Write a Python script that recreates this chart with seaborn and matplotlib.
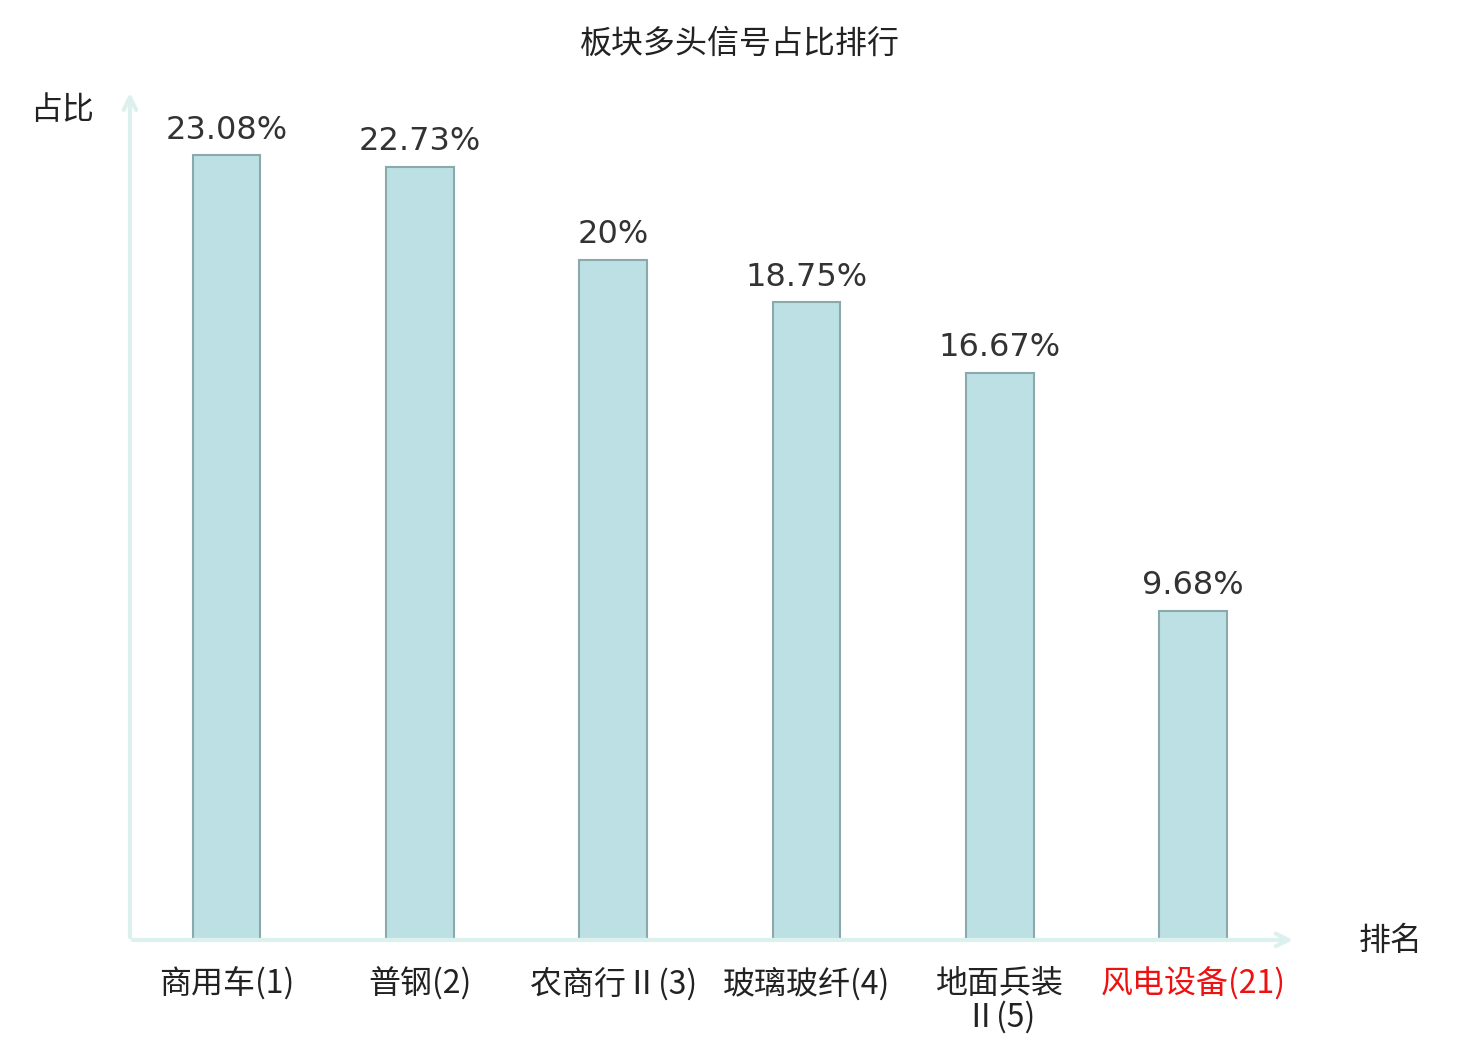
import matplotlib
matplotlib.use('Agg')
import matplotlib.pyplot as plt
import seaborn as sns
import pandas as pd

# data
sectors = ['商用车(1)', '普钢(2)', '农商行Ⅱ(3)', '玻璃玻纤(4)', '地面兵装\nⅡ(5)', '风电设备(21)']
ratios = [23.08, 22.73, 20.0, 18.75, 16.67, 9.68]
ratio_labels = ['23.08%', '22.73%', '20%', '18.75%', '16.67%', '9.68%']

sns.set_style('white')
plt.rcParams['font.family'] = ['Noto Sans CJK SC', 'DejaVu Sans']

df = pd.DataFrame({'sector': sectors, 'ratio': ratios})

fig = plt.figure(figsize=(14.8, 10.4), dpi=100)
ax = fig.add_axes([0.0878, 0.0962, 0.7838, 0.8173])

sns.barplot(data=df, x='sector', y='ratio', ax=ax, width=0.35, color='#bce0e3',
            saturation=1, edgecolor='#8aa9aa', linewidth=1.5)

ax.set_xlim(-0.5, 5.5)
ax.set_ylim(0, 25)
ax.bar_label(ax.containers[0], labels=ratio_labels, padding=7, fontsize=23,
             color='#333333', family=['DejaVu Sans', 'Noto Sans CJK SC'])

for s in ax.spines.values():
    s.set_visible(False)
ax.set_yticks([])
ax.set_xlabel('')
ax.set_ylabel('')
ax.tick_params(axis='x', length=0, pad=20, labelsize=23, labelcolor='#222222')
for lbl in ax.get_xticklabels():
    lbl.set_linespacing(1.05)
ax.get_xticklabels()[-1].set_color('#ee1111')

# axis arrows
axis_col = '#dcf1ee'
ax.annotate('', xy=(1.005, 0), xytext=(0, 0), xycoords='axes fraction',
            arrowprops=dict(arrowstyle='->,head_length=0.9,head_width=0.45', color=axis_col, lw=3),
            annotation_clip=False)
ax.annotate('', xy=(0, 1.0), xytext=(0, 0), xycoords='axes fraction',
            arrowprops=dict(arrowstyle='->,head_length=0.9,head_width=0.45', color=axis_col, lw=3),
            annotation_clip=False)

fig.text(62 / 1480, 1 - 110 / 1040, '占比', ha='center', va='center', fontsize=23, color='#222222')
fig.text(1391 / 1480, 1 - 941 / 1040, '排名', ha='center', va='center', fontsize=23, color='#222222')
fig.text(740 / 1480, 1 - 44 / 1040, '板块多头信号占比排行', ha='center', va='center', fontsize=23, color='#222222')

fig.savefig('out.png', dpi=100)
